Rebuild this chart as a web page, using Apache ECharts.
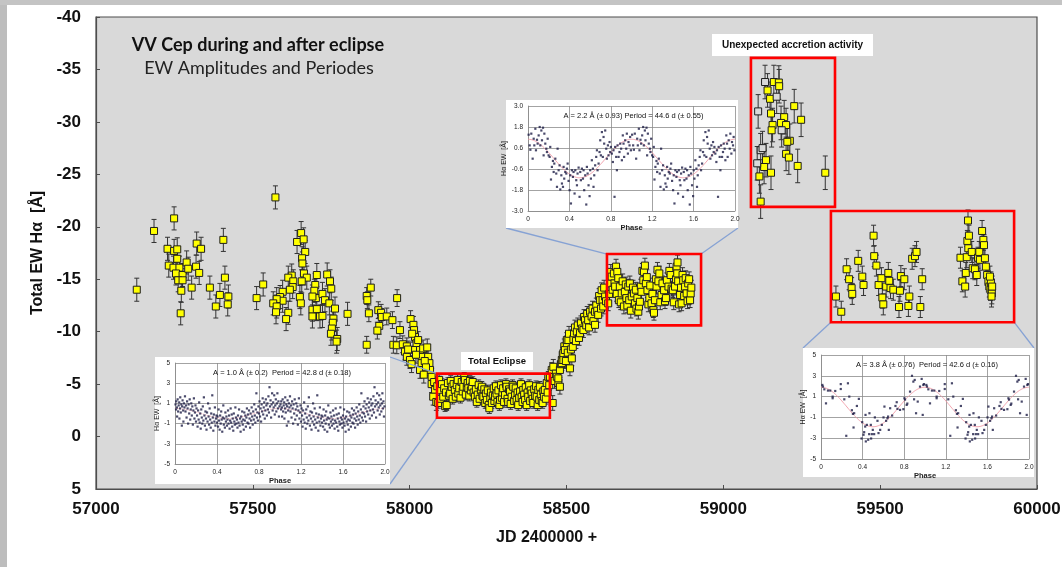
<!DOCTYPE html>
<html>
<head>
<meta charset="utf-8">
<script src="https://cdn.jsdelivr.net/npm/echarts@6/dist/echarts.min.js"></script>
<style>
  html, body { margin: 0; padding: 0; background: #ffffff; }
  #chart { position: absolute; left: 0; top: 0; width: 1062px; height: 567px; }
  .strip-l { position: absolute; left: 0; top: 0; width: 7px; height: 567px; background: #bdbdbd; }
  .strip-t { position: absolute; left: 0; top: 0; width: 1062px; height: 5px; background: #c4c4c4; }
</style>
</head>
<body>
<div id="chart"></div>
<div class="strip-l"></div>
<div class="strip-t"></div>
<script>
// ---- Total Hα equivalent width of VV Cep: [JD - 2400000, EW in Å] ----
const preEclipse = [
  [57130,-14.0],[57185,-19.6],[57249,-20.8],[57228,-17.9],[57249,-17.7],[57259,-17.85],[57259,-16.95],
  [57232,-16.3],[57247,-16.1],[57266,-16.1],[57255,-15.55],[57276,-15.4],[57262,-14.9],[57276,-14.9],
  [57272,-13.9],[57270,-11.75],[57289,-16.6],[57294,-16.0],[57305,-14.2],[57321,-18.4],[57335,-17.9],
  [57319,-16.2],[57329,-15.6],[57363,-14.2],[57406,-18.75],[57411,-15.15],[57395,-13.5],[57422,-13.35],
  [57382,-12.4],[57420,-12.6],[57572,-22.8],[57533,-14.5],[57512,-13.2],[57654,-19.4],[57641,-18.55],
  [57662,-18.8],[57667,-17.6],[57657,-17.0],[57658,-16.5],[57663,-15.55],[57672,-15.15],[57656,-14.8],
  [57624,-15.35],[57613,-15.15],[57629,-14.8],[57627,-14.25],[57618,-14.0],[57595,-13.8],[57587,-13.3],
  [57595,-12.95],[57576,-13.1],[57565,-12.7],[57576,-12.4],[57574,-11.85],[57613,-11.8],[57606,-11.2],
  [57650,-13.3],[57653,-12.7],[57704,-15.4],[57699,-14.45],[57696,-13.9],[57701,-13.2],[57690,-13.35],
  [57690,-12.1],[57690,-11.45],[57704,-12.15],[57714,-11.45],[57722,-11.5],[57722,-13.6],[57730,-13.0],
  [57737,-15.45],[57746,-14.8],[57750,-14.1],[57744,-12.7],[57762,-12.2],[57757,-11.25],[57755,-10.85],
  [57752,-10.3],[57749,-9.8],[57769,-9.3],[57767,-9.05],[57802,-11.7]
];
const ingress = [
  [57876,-14.2],[57863,-13.4],[57865,-13.0],[57870,-11.75],[57863,-8.75],[57960,-13.2],[57900,-12.05],
  [57909,-11.8],[57911,-11.4],[57927,-11.45],[57945,-11.1],[57903,-10.55],[57897,-10.1],[57969,-10.15],
  [58003,-11.2],[57948,-8.75],[57959,-8.7],[57978,-8.8],[57991,-8.6],[57985,-8.1],[57991,-7.6],[58001,-7.3],
  [58012,-10.65],[58014,-10.15],[58017,-9.5],[58022,-8.9],[58017,-8.25],[58033,-8.25],[58043,-8.4],
  [58056,-8.5],[58038,-7.6],[58059,-7.6],[58038,-7.0],[58063,-7.0],[58033,-6.35],[58065,-6.35],[58070,-5.7],
  [58070,-5.0],[58081,-4.45],[58075,-3.8],[58008,-9.8],[58020,-7.8],[58027,-9.2],[58048,-7.2],[58052,-6.6],
  [58045,-5.9],[58078,-5.2],[58085,-3.3],[57995,-8.3],[58006,-6.9]
];
const totality = [
  [58088,-4.8],[58091,-3.2],[58094,-5.4],[58097,-4.4],[58100,-3.6],[58103,-5.0],[58107,-3.8],[58110,-4.6],
  [58113,-2.9],[58116,-4.2],[58118,-3.0],[58122,-5.1],[58125,-3.9],[58129,-4.1],[58131,-5.3],[58134,-4.75],
  [58137,-3.6],[58140,-5.0],[58144,-4.45],[58147,-3.8],[58150,-4.9],[58153,-5.4],[58155,-4.1],[58158,-4.6],
  [58162,-3.7],[58166,-5.2],[58169,-4.3],[58171,-4.75],[58174,-5.6],[58176,-5.4],[58179,-4.0],[58182,-4.75],
  [58185,-5.1],[58187,-4.6],[58190,-3.9],[58192,-5.3],[58195,-4.4],[58198,-4.75],[58201,-5.2],[58204,-4.2],
  [58208,-3.8],[58211,-4.5],[58214,-3.3],[58217,-4.0],[58220,-4.9],[58223,-3.6],[58227,-4.4],[58230,-4.75],
  [58232,-3.9],[58235,-3.8],[58238,-4.5],[58241,-3.2],[58243,-4.1],[58246,-3.5],[58249,-4.4],[58252,-3.0],
  [58254,-2.7],[58257,-3.7],[58259,-4.2],[58262,-3.2],[58265,-3.9],[58268,-4.6],[58270,-3.4],[58272,-3.8],
  [58275,-4.8],[58277,-4.1],[58280,-3.3],[58283,-4.4],[58286,-3.0],[58288,-3.5],[58291,-4.9],[58294,-3.7],
  [58296,-4.2],[58298,-4.6],[58301,-3.3],[58304,-3.95],[58307,-5.0],[58309,-4.75],[58312,-3.6],[58314,-3.3],
  [58317,-4.5],[58320,-4.3],[58322,-3.1],[58325,-3.8],[58328,-4.9],[58330,-4.75],[58333,-3.4],[58336,-3.95],
  [58338,-4.6],[58341,-3.5],[58344,-4.2],[58346,-3.0],[58349,-3.7],[58352,-4.3],[58355,-5.0],[58357,-3.8],
  [58360,-3.3],[58362,-4.45],[58365,-4.0],[58368,-3.5],[58370,-4.7],[58373,-3.0],[58376,-4.2],[58378,-3.8],
  [58381,-4.9],[58384,-3.4],[58386,-4.4],[58389,-4.1],[58392,-3.6],[58394,-3.2],[58397,-4.5],[58400,-3.9],
  [58403,-4.8],[58405,-3.8],[58408,-3.0],[58410,-4.45],[58413,-3.5],[58415,-4.75],[58418,-4.0],[58421,-3.4],
  [58424,-3.2],[58426,-4.3],[58428,-3.8],[58431,-4.45],[58434,-3.6],[58437,-5.1],[58440,-4.2],[58442,-5.7],
  [58445,-4.9]
];
const egress = [
  [58447,-5.7],[58453,-6.35],[58456,-3.2],[58458,-6.65],[58462,-5.3],[58466,-6.0],[58469,-5.7],[58474,-5.1],
  [58474,-5.55],[58479,-4.75],[58479,-6.35],[58482,-6.9],[58485,-7.0],[58485,-7.3],[58488,-7.8],[58490,-7.3],
  [58490,-7.95],[58493,-8.6],[58495,-8.25],[58498,-7.2],[58501,-8.9],[58501,-9.2],[58504,-8.0],[58506,-9.2],
  [58508,-9.8],[58511,-6.5],[58514,-8.3],[58517,-7.45],[58520,-8.55],[58522,-9.3],[58524,-9.85],[58527,-10.4],
  [58530,-9.1],[58533,-10.0],[58536,-10.6],[58540,-9.4],[58543,-9.85],[58546,-10.8],[58550,-10.3],[58554,-10.15],
  [58556,-11.4],[58559,-11.1],[58563,-10.6],[58566,-11.7],[58569,-11.1],[58572,-10.4],[58575,-11.9],[58580,-11.45],
  [58583,-12.2],[58586,-11.0],[58591,-10.65],[58591,-11.9],[58595,-12.5],[58598,-12.0],[58601,-11.6],[58604,-13.4],
  [58607,-13.0],[58610,-12.2],[58612,-13.95],[58615,-13.0],[58617,-12.4],[58620,-14.2],[58623,-13.35],[58626,-12.9]
];
const plateau = [
  [58633,-12.7],[58636,-13.6],[58639,-14.6],[58641,-15.7],[58644,-15.25],[58647,-14.0],[58651,-15.55],[58653,-14.6],
  [58655,-14.3],[58658,-16.2],[58660,-13.6],[58662,-15.7],[58665,-15.1],[58667,-13.0],[58670,-14.3],[58673,-12.8],
  [58676,-13.65],[58679,-14.8],[58683,-12.4],[58686,-13.8],[58689,-14.5],[58691,-13.2],[58694,-12.5],[58697,-14.3],
  [58700,-13.0],[58702,-14.6],[58705,-12.0],[58708,-13.35],[58712,-14.2],[58715,-13.65],[58718,-12.7],[58721,-14.0],
  [58723,-12.2],[58726,-13.2],[58729,-11.9],[58731,-12.4],[58734,-12.85],[58737,-14.3],[58739,-13.8],[58742,-15.8],
  [58745,-14.9],[58747,-15.7],[58750,-16.3],[58753,-14.6],[58756,-15.2],[58758,-13.95],[58761,-12.6],[58764,-13.2],
  [58767,-14.4],[58771,-12.7],[58774,-13.6],[58777,-12.05],[58779,-11.8],[58782,-13.0],[58785,-15.0],[58787,-14.3],
  [58790,-15.9],[58793,-14.8],[58796,-15.55],[58799,-12.8],[58803,-13.5],[58806,-14.6],[58811,-13.95],[58814,-12.9],
  [58817,-13.2],[58820,-14.9],[58825,-14.3],[58828,-15.8],[58832,-15.4],[58835,-14.1],[58839,-13.95],[58842,-12.8],
  [58846,-14.3],[58849,-15.0],[58851,-16.2],[58853,-15.55],[58854,-16.6],[58856,-14.8],[58859,-12.6],[58862,-13.5],
  [58865,-14.2],[58867,-12.7],[58870,-15.4],[58872,-14.9],[58875,-13.4],[58878,-14.3],[58880,-15.1],[58883,-13.65],
  [58886,-12.9],[58888,-14.6],[58891,-15.0],[58894,-13.0],[58896,-13.65],[58898,-14.2]
];
const accretion = [
  [59161,-33.8],[59177,-33.75],[59178,-33.4],[59141,-33.0],[59149,-32.2],[59152,-30.8],[59194,-30.45],
  [59184,-29.9],[59200,-29.7],[59157,-29.7],[59154,-29.2],[59226,-31.5],[59248,-30.2],[59212,-28.2],
  [59204,-28.1],[59136,-26.35],[59130,-25.7],[59115,-24.8],[59152,-25.15],[59200,-26.95],[59209,-26.6],
  [59237,-25.8],[59325,-25.15],[59119,-22.4]
];
const accretionOpen = [
  [59133,-33.8],[59111,-31.0],[59170,-32.4],[59186,-29.2],[59119,-27.3],[59125,-27.5],[59108,-26.05]
];
const late = [
  [59359,-13.35],[59376,-11.9],[59393,-15.95],[59401,-15.0],[59409,-14.15],[59411,-13.6],[59430,-16.75],
  [59443,-15.25],[59447,-14.45],[59479,-19.15],[59481,-17.2],[59488,-16.3],[59495,-14.45],[59504,-15.1],
  [59507,-13.25],[59510,-12.6],[59519,-14.3],[59526,-15.6],[59529,-14.85],[59533,-14.15],[59542,-14.0],
  [59560,-12.35],[59563,-13.9],[59566,-15.3],[59577,-15.0],[59590,-12.45],[59593,-13.35],[59602,-16.95],
  [59611,-17.2],[59616,-17.6],[59628,-12.35],[59634,-15.0],[59756,-17.05],[59762,-14.8],[59771,-14.3],
  [59773,-15.6],[59776,-17.1],[59778,-18.65],[59780,-20.6],[59783,-19.15],[59781,-17.95],[59792,-17.6],
  [59795,-16.05],[59802,-15.95],[59808,-15.4],[59812,-17.05],[59816,-17.6],[59818,-16.85],[59825,-19.6],
  [59829,-18.75],[59831,-18.25],[59834,-17.0],[59837,-16.2],[59841,-15.4],[59845,-14.8],[59848,-14.3],
  [59852,-14.0],[59856,-13.65],[59853,-14.7],[59850,-15.25],[59855,-13.35],[59857,-14.3]
];
// measurement uncertainty (Å) of each observing segment
const segmentErrors = { preEclipse: 1.1, ingress: 0.8, totality: 0.5, egress: 0.7, plateau: 0.7, accretion: 1.6, late: 1.0 };

// ---- phase-folded Hα EW residuals, one cycle each: [phase, EW in Å] ----
const phaseEclipse = [
  [0.005,0.9],[0.01,0.4],[0.012,1.2],[0.018,0.6],[0.02,-0.3],[0.025,1.4],[0.03,0.2],[0.035,0.8],[0.04,1.1],[0.042,-0.5],
  [0.048,0.5],[0.05,1.6],[0.055,0.1],[0.06,0.9],[0.065,-1.2],[0.068,0.7],[0.072,1.3],[0.078,0.3],[0.08,-0.8],[0.085,1.0],
  [0.09,0.6],[0.095,1.7],[0.1,0.2],[0.105,0.8],[0.11,-0.4],[0.115,1.2],[0.12,0.5],[0.125,-1.0],[0.13,0.9],[0.135,0.0],
  [0.14,1.4],[0.145,-0.6],[0.15,0.4],[0.155,1.0],[0.16,-0.2],[0.165,0.7],[0.17,-1.1],[0.175,0.3],[0.18,1.5],[0.185,-0.5],
  [0.19,0.1],[0.195,0.8],[0.2,-0.8],[0.205,0.5],[0.21,-0.2],[0.215,-1.3],[0.22,0.3],[0.225,-0.6],[0.23,1.1],[0.235,-0.9],
  [0.24,0.0],[0.245,-1.5],[0.25,0.4],[0.255,-0.4],[0.26,-1.0],[0.265,0.7],[0.27,-0.7],[0.275,1.6],[0.28,-0.2],[0.285,-1.2],
  [0.29,0.2],[0.295,-0.5],[0.3,-1.6],[0.305,0.1],[0.31,-0.8],[0.315,1.0],[0.32,-0.3],[0.325,-1.1],[0.33,0.5],[0.335,-0.6],
  [0.34,-1.4],[0.345,0.0],[0.35,-0.9],[0.355,1.8],[0.36,-0.4],[0.365,-1.7],[0.37,-0.1],[0.375,-0.8],[0.38,0.6],[0.385,-1.2],
  [0.39,-0.5],[0.395,-0.2],[0.4,-0.9],[0.405,-0.3],[0.41,-1.3],[0.415,0.4],[0.42,-0.7],[0.425,-1.6],[0.43,-0.2],[0.435,-1.0],
  [0.44,0.2],[0.445,-0.6],[0.45,-1.8],[0.455,-0.4],[0.46,0.8],[0.465,-1.1],[0.47,-0.5],[0.475,-1.4],[0.48,0.1],[0.485,-0.8],
  [0.49,-0.3],[0.495,-1.2],[0.5,-0.6],[0.505,0.3],[0.51,-1.0],[0.515,-0.2],[0.52,-1.5],[0.525,-0.7],[0.53,0.5],[0.535,-0.9],
  [0.54,-0.1],[0.545,-1.3],[0.55,-0.5],[0.555,-1.7],[0.56,0.0],[0.565,-0.8],[0.57,-1.1],[0.575,0.6],[0.58,-0.4],[0.585,-1.0],
  [0.59,-0.6],[0.595,-1.4],[0.6,-0.2],[0.605,-0.9],[0.61,0.4],[0.615,-1.2],[0.62,-0.5],[0.625,-1.8],[0.63,-0.3],[0.635,-0.8],
  [0.64,0.2],[0.645,-1.1],[0.65,-0.6],[0.655,-1.6],[0.66,0.1],[0.665,-0.7],[0.67,-0.2],[0.675,-1.3],[0.68,-0.4],[0.685,0.5],
  [0.69,-0.9],[0.695,-0.1],[0.7,-1.0],[0.705,0.3],[0.71,-0.5],[0.715,-1.4],[0.72,0.0],[0.725,-0.7],[0.73,0.6],[0.735,-0.3],
  [0.74,-1.1],[0.745,0.2],[0.75,-0.6],[0.755,0.9],[0.76,-0.2],[0.765,-0.9],[0.77,0.4],[0.775,2.0],[0.78,-0.4],[0.785,0.1],
  [0.79,-0.7],[0.795,0.7],[0.8,0.0],[0.805,1.2],[0.81,-0.3],[0.815,0.5],[0.82,-0.8],[0.825,0.9],[0.83,0.2],[0.835,1.5],
  [0.84,-0.1],[0.845,0.6],[0.85,1.1],[0.855,-0.5],[0.86,0.3],[0.865,1.4],[0.87,0.8],[0.875,-0.2],[0.88,1.0],[0.885,0.4],
  [0.89,1.7],[0.895,0.1],[0.9,2.6],[0.905,0.7],[0.91,1.3],[0.915,-0.4],[0.92,0.9],[0.925,2.0],[0.93,0.3],[0.935,1.1],
  [0.94,0.6],[0.945,1.8],[0.95,-0.1],[0.955,0.8],[0.96,1.4],[0.965,0.2],[0.97,1.0],[0.975,2.0],[0.98,0.5],[0.985,1.2],
  [0.99,-0.3],[0.995,0.7]
];
const phasePlateau = [
  [0.006,1.36],[0.016,0.75],[0.023,0.5],[0.032,1.42],[0.045,-0.01],[0.055,1.13],[0.061,0.75],[0.071,1.7],[0.077,0.47],
  [0.087,1.07],[0.093,0.85],[0.103,1.32],[0.113,1.8],[0.119,0.75],[0.129,1.6],[0.135,1.04],[0.145,1.76],[0.151,0.18],
  [0.158,1.42],[0.167,0.85],[0.177,0.56],[0.183,0.37],[0.19,1.13],[0.199,0.18],[0.209,0.09],[0.215,0.66],[0.222,-1.2],
  [0.231,-0.48],[0.241,-0.14],[0.248,-0.77],[0.254,-0.29],[0.264,-0.01],[0.273,-0.86],[0.28,-1.62],[0.286,0.56],
  [0.296,-0.67],[0.305,-0.39],[0.312,-1.77],[0.322,-0.96],[0.328,-1.43],[0.338,-1.62],[0.344,-0.48],[0.35,-1.15],
  [0.36,-0.77],[0.37,-0.86],[0.376,-0.58],[0.383,-0.29],[0.392,-1.28],[0.402,-1.81],[0.408,-0.96],[0.415,-2.57],
  [0.424,-0.67],[0.434,-1.05],[0.44,-0.77],[0.45,-2.0],[0.457,-0.67],[0.466,-1.24],[0.473,-1.53],[0.479,-0.86],
  [0.489,-0.52],[0.498,-2.19],[0.505,-0.77],[0.511,-1.24],[0.521,-0.58],[0.531,-1.15],[0.537,-0.67],[0.543,-1.81],
  [0.553,-0.96],[0.563,-2.63],[0.569,-0.48],[0.576,-0.86],[0.585,-1.53],[0.595,-2.15],[0.601,-0.67],[0.608,-1.15],
  [0.617,-0.1],[0.627,-0.58],[0.633,-1.62],[0.64,-0.96],[0.649,-0.39],[0.659,0.09],[0.666,0.47],[0.672,-0.67],
  [0.682,-0.29],[0.691,0.37],[0.698,1.04],[0.704,0.18],[0.714,1.51],[0.723,0.09],[0.73,1.23],[0.736,0.85],[0.746,1.6],
  [0.756,0.56],[0.762,-0.01],[0.772,0.75],[0.778,0.18],[0.788,0.94],[0.794,0.37],[0.801,0.66],[0.81,0.28],[0.82,-0.2],
  [0.826,0.47],[0.836,-2.19],[0.842,0.66],[0.852,0.09],[0.859,-0.67],[0.865,0.75],[0.875,0.09],[0.884,0.37],[0.891,0.85],
  [0.9,0.56],[0.907,-0.1],[0.916,1.32],[0.923,0.85],[0.929,0.09],[0.939,1.04],[0.949,0.56],[0.955,1.42],[0.965,0.28],
  [0.971,0.94],[0.981,0.75],[0.987,1.23],[0.994,0.47]
];
const phaseLate = [
  [0.013,2.12],[0.019,1.96],[0.032,1.7],[0.048,0.35],[0.067,1.58],[0.089,1.58],[0.112,1.0],[0.112,0.84],[0.137,1.54],
  [0.19,2.2],[0.19,1.73],[0.224,0.74],[0.243,-2.77],[0.259,2.28],[0.272,1.0],[0.297,-0.31],[0.307,-0.66],[0.319,-0.6],
  [0.313,-1.97],[0.345,0.1],[0.364,0.78],[0.39,-3.03],[0.396,-1.46],[0.409,-2.67],[0.415,-2.42],[0.425,-1.88],
  [0.428,-0.76],[0.431,-3.31],[0.441,-1.72],[0.454,-3.15],[0.463,-2.61],[0.466,-0.6],[0.479,-1.72],[0.482,-3.03],
  [0.489,-2.61],[0.498,-2.2],[0.511,-2.61],[0.518,-1.0],[0.543,-1.33],[0.553,-2.51],[0.569,-2.2],[0.585,-1.72],
  [0.601,-1.0],[0.61,0.04],[0.626,-1.33],[0.639,-1.08],[0.645,-0.92],[0.652,-2.2],[0.665,-0.12],[0.684,-0.82],
  [0.716,0.1],[0.728,0.46],[0.735,-0.18],[0.76,-0.28],[0.792,-0.21],[0.802,0.84],[0.808,0.71],[0.824,0.2],[0.83,0.33],
  [0.856,1.48],[0.875,3.0],[0.888,2.44],[0.895,0.74],[0.901,2.6],[0.914,-0.6],[0.93,0.52],[0.952,1.96],[0.968,2.7],
  [0.978,-0.76],[0.99,2.2],[0.984,2.12]
];
// fitted full amplitudes (Å) and periods (d) quoted in each panel
const fitEclipse = { amp: 1.0, ampErr: 0.2, period: 42.8, periodErr: 0.18 };
const fitPlateau = { amp: 2.2, ampErr: 0.93, period: 44.6, periodErr: 0.55 };
const fitLate    = { amp: 3.8, ampErr: 0.76, period: 42.6, periodErr: 0.16 };

// annotated intervals: [JD start, EW top, JD end, EW bottom]
const boxEclipse   = [58087, -6.0, 58447, -1.8];
const boxPlateau   = [58629, -17.4, 58929, -10.6];
const boxAccretion = [59088, -36.1, 59356, -21.9];
const boxLate      = [59343, -21.5, 59927, -10.9];

// ---------------- layout ----------------
const MAIN = { left: 96, top: 17, width: 941, height: 472 };
const panels = [
  { frame: [155, 357, 235, 127], grid: { left: 175, top: 363, width: 210, height: 101 } },
  { frame: [506, 100, 232, 128], grid: { left: 528, top: 106, width: 207, height: 105 } },
  { frame: [803, 348, 231, 129], grid: { left: 821, top: 355, width: 208, height: 104 } }
];
const panelSetup = [
  { pts: phaseEclipse, fit: fitEclipse, off: 5, step: 2, dec: 0, dotted: true },
  { pts: phasePlateau, fit: fitPlateau, off: 3, step: 1.2, dec: 1, dotted: false },
  { pts: phaseLate,    fit: fitLate,    off: 5, step: 2, dec: 0, dotted: false }
];

const FONT = '"Liberation Sans", Arial, sans-serif';
const NARROW = '"Liberation Sans Narrow", "Liberation Sans", Arial, sans-serif';
const ERR_COLOR = '#333333';

function errorBars(points, err) {
  return {
    type: 'custom', xAxisIndex: 0, yAxisIndex: 0, z: 2, silent: true,
    data: points.map(p => [p[0], p[1] - err, p[1] + err]),
    encode: { x: 0, y: [1, 2] },
    renderItem(params, api) {
      const x = api.value(0);
      const a = api.coord([x, api.value(1)]);
      const b = api.coord([x, api.value(2)]);
      const w = 2.5;
      const st = { stroke: ERR_COLOR, lineWidth: 1 };
      return { type: 'group', children: [
        { type: 'line', shape: { x1: a[0], y1: a[1], x2: b[0], y2: b[1] }, style: st },
        { type: 'line', shape: { x1: a[0] - w, y1: a[1], x2: a[0] + w, y2: a[1] }, style: st },
        { type: 'line', shape: { x1: b[0] - w, y1: b[1], x2: b[0] + w, y2: b[1] }, style: st }
      ]};
    }
  };
}
function squares(points, fill) {
  return {
    type: 'scatter', xAxisIndex: 0, yAxisIndex: 0, z: 3, silent: true,
    symbol: 'rect', symbolSize: 7,
    itemStyle: { color: fill, borderColor: '#1e1e1e', borderWidth: 1, opacity: 1 },
    data: points
  };
}

const segments = [
  [preEclipse, segmentErrors.preEclipse], [ingress, segmentErrors.ingress],
  [totality, segmentErrors.totality], [egress, segmentErrors.egress],
  [plateau, segmentErrors.plateau], [accretion, segmentErrors.accretion],
  [accretionOpen, segmentErrors.accretion], [late, segmentErrors.late]
];

const grids = [Object.assign({ show: true, backgroundColor: '#d9d9d9', borderColor: '#4d4d4d', borderWidth: 1.2,
  containLabel: false, outerBoundsMode: 'none' }, MAIN)];
const xAxes = [{
  type: 'value', gridIndex: 0, min: 57000, max: 60000, interval: 500,
  axisLine: { show: true, onZero: false, lineStyle: { color: '#4d4d4d', width: 1.2 } },
  axisTick: { show: true, inside: true, length: 4, lineStyle: { color: '#4d4d4d' } },
  splitLine: { show: false },
  axisLabel: { fontFamily: FONT, fontSize: 17, fontWeight: 'bold', color: '#111', margin: 12, formatter: v => String(v) },
  name: 'JD 2400000 +', nameLocation: 'middle', nameGap: 41,
  nameTextStyle: { fontFamily: FONT, fontSize: 16, fontWeight: 'bold', color: '#111', padding: [0, 40, 0, 0] }
}];
const yAxes = [{
  type: 'value', gridIndex: 0, min: -40, max: 5, interval: 5, inverse: true,
  axisLine: { show: true, onZero: false, lineStyle: { color: '#4d4d4d', width: 1.2 } },
  axisTick: { show: true, inside: true, length: 4, lineStyle: { color: '#4d4d4d' } },
  splitLine: { show: false },
  axisLabel: { fontFamily: FONT, fontSize: 17, fontWeight: 'bold', color: '#111', margin: 15, formatter: v => String(v) },
  name: 'Total EW Hα  [Å]', nameLocation: 'middle', nameGap: 40,
  nameTextStyle: { fontFamily: FONT, fontSize: 16, fontWeight: 'bold', color: '#111' }
}];

const series = [];
segments.forEach(([pts, err]) => series.push(errorBars(pts, err)));
segments.forEach(([pts]) => series.push(squares(pts, pts === accretionOpen ? '#d9d9d9' : '#ffff00')));

// phase-folded panels
const fitPhase = [];
for (let k = 0; k <= 100; k++) fitPhase.push(k / 50);
panels.forEach((pn, i) => {
  const s = panelSetup[i];
  const gi = i + 1;
  grids.push(Object.assign({ show: false, containLabel: false, outerBoundsMode: 'none' }, pn.grid));
  const lineCol = '#8c8c8c';
  xAxes.push({
    type: 'value', gridIndex: gi, min: 0, max: 2, interval: 0.4, z: 60,
    axisLine: { show: true, onZero: false, lineStyle: { color: lineCol, width: 0.8 } },
    axisTick: { show: false },
    splitLine: { show: true, lineStyle: { color: lineCol, width: 0.8 } },
    axisLabel: { fontFamily: NARROW, fontSize: 6.5, color: '#222', margin: 5,
      formatter: v => (v === 0 ? '0' : v.toFixed(1)) },
    name: 'Phase', nameLocation: 'middle', nameGap: 11,
    nameTextStyle: { fontFamily: NARROW, fontSize: 7.5, fontWeight: 'bold', color: '#222' }
  });
  yAxes.push({
    type: 'value', gridIndex: gi, min: 0, max: 2 * s.off, interval: s.step, z: 60,
    axisLine: { show: true, onZero: false, lineStyle: { color: lineCol, width: 0.8 } },
    axisTick: { show: false },
    splitLine: { show: true, lineStyle: { color: lineCol, width: 0.8 } },
    axisLabel: { fontFamily: NARROW, fontSize: 6.5, color: '#222', margin: 5,
      formatter: v => (v - s.off).toFixed(s.dec) },
    name: 'Hα EW  [Å]', nameLocation: 'middle', nameGap: 13,
    nameTextStyle: { fontFamily: NARROW, fontSize: 7, color: '#222' }
  });
  // fitted sinusoid with the quoted full amplitude
  series.push({
    type: 'line', xAxisIndex: gi, yAxisIndex: gi, z: 61, silent: true, showSymbol: false, smooth: true,
    lineStyle: { color: '#f19aa6', width: 0.9, type: s.dotted ? 'dotted' : 'solid' },
    data: fitPhase.map(p => [p, s.fit.amp / 2 * Math.cos(2 * Math.PI * p) + s.off])
  });
  // observations folded twice over the phase axis
  const dots = [];
  s.pts.forEach(([p, v]) => { dots.push([p, v + s.off]); dots.push([p + 1, v + s.off]); });
  series.push({
    type: 'scatter', xAxisIndex: gi, yAxisIndex: gi, z: 62, silent: true,
    symbol: 'rect', symbolSize: 2.2, itemStyle: { color: '#1b1b45' }, data: dots
  });
});

const chart = echarts.init(document.getElementById('chart'), null, { renderer: 'canvas' });
chart.setOption({ animation: false, backgroundColor: 'transparent', grid: grids, xAxis: xAxes, yAxis: yAxes, series });

// annotations placed from data coordinates
function px(jd, ew) { return chart.convertToPixel({ xAxisIndex: 0, yAxisIndex: 0 }, [jd, ew]); }
function corners(b) {
  const p = px(b[0], b[1]), q = px(b[2], b[3]);
  return { tl: [p[0], p[1]], tr: [q[0], p[1]], bl: [p[0], q[1]], br: [q[0], q[1]] };
}
const cE = corners(boxEclipse), cP = corners(boxPlateau), cA = corners(boxAccretion), cL = corners(boxLate);
const g = [];
const LINK = { stroke: '#86a2d4', lineWidth: 1.3 };
function link(a, b) { g.push({ type: 'line', z: 40, silent: true, shape: { x1: a[0], y1: a[1], x2: b[0], y2: b[1] }, style: LINK }); }
const f = panels.map(p => p.frame);
link([f[0][0] + f[0][2], f[0][1]], cE.tl);
link([f[0][0] + f[0][2], f[0][1] + f[0][3]], cE.bl);
link([f[1][0], f[1][1] + f[1][3]], cP.tl);
link([f[1][0] + f[1][2], f[1][1] + f[1][3]], cP.tr);
link(cL.bl, [f[2][0], f[2][1]]);
link(cL.br, [f[2][0] + f[2][2], f[2][1]]);
[cE, cP, cA, cL].forEach(c => g.push({
  type: 'rect', z: 45, silent: true,
  shape: { x: c.tl[0], y: c.tl[1], width: c.br[0] - c.tl[0], height: c.br[1] - c.tl[1] },
  style: { fill: null, stroke: '#ff0000', lineWidth: 2.6 }
}));
f.forEach(r => g.push({ type: 'rect', z: 50, silent: true, shape: { x: r[0], y: r[1], width: r[2], height: r[3] }, style: { fill: '#ffffff' } }));
// panel captions
const caps = [
  [fitEclipse, panels[0].grid, '  '], [fitPlateau, panels[1].grid, ' '], [fitLate, panels[2].grid, '  ']
];
caps.forEach(([ft, gr, gap]) => g.push({
  type: 'text', z: 70, silent: true,
  style: { x: gr.left + gr.width / 2 + 2, y: gr.top + 10, text: `A = ${ft.amp.toFixed(1)} Å (± ${ft.ampErr})${gap}Period = ${ft.period} d (± ${ft.periodErr})`,
    font: `7.5px ${NARROW}`, fill: '#111', align: 'center', verticalAlign: 'middle' }
}));
// labelled notes
function note(x, y, w, h, text, size) {
  g.push({ type: 'rect', z: 50, silent: true, shape: { x, y, width: w, height: h }, style: { fill: '#ffffff' } });
  g.push({ type: 'text', z: 51, silent: true, style: { x: x + w / 2, y: y + h / 2, text, font: `bold ${size}px ${NARROW}`, fill: '#111', align: 'center', verticalAlign: 'middle' } });
}
note(461, 352, 72, 18, 'Total Eclipse', 9.5);
note(712, 34, 161, 22, 'Unexpected accretion activity', 10);
// chart title
g.push({ type: 'text', z: 70, silent: true, style: { x: 258, y: 45, text: 'VV Cep during and after eclipse', font: 'bold 18px Lato, "Open Sans", sans-serif', fill: '#111', align: 'center', verticalAlign: 'middle' } });
g.push({ type: 'text', z: 70, silent: true, style: { x: 259, y: 68, text: 'EW Amplitudes and Periodes', font: '18px Lato, "Open Sans", sans-serif', fill: '#222', align: 'center', verticalAlign: 'middle' } });
chart.setOption({ graphic: { elements: g } });
</script>
</body>
</html>
